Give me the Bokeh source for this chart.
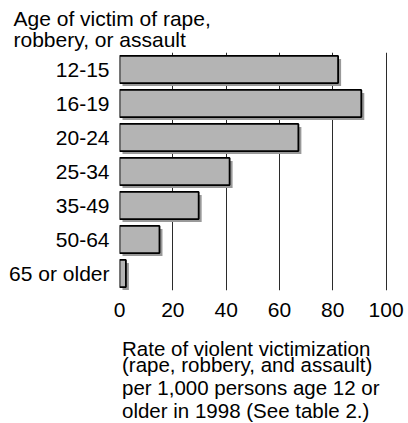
from bokeh.plotting import figure
from bokeh.layouts import column
from bokeh.models import Range1d, FactorRange, FixedTicker, Title, Label, ColumnDataSource
from bokeh.transform import dodge
from bokeh.embed import file_html
from bokeh.resources import INLINE

# ---- data ----
ages = ["12-15", "16-19", "20-24", "25-34", "35-49", "50-64", "65 or older"]
rates = [82.0, 90.7, 67.1, 41.3, 29.7, 15.0, 2.4]
x_ticks = [0, 20, 40, 60, 80, 100]
title_lines = ["Age of victim of rape,", "robbery, or assault"]
note_lines = ["Rate of violent victimization",
              "(rape, robbery, and assault)",
              "per 1,000 persons age 12 or",
              "older in 1998  (See table 2.)"]

FONT = "Liberation Sans"
FS = "21px"
W, H1, H2 = 408, 330, 93

p = figure(width=W, height=H1, output_backend="svg", toolbar_location=None,
           y_range=FactorRange(factors=ages[::-1]),
           x_range=Range1d(0, 108.4),
           min_border_left=119, min_border_right=0,
           min_border_top=52, min_border_bottom=40)
p.outline_line_color = None
p.background_fill_color = "white"
p.border_fill_color = "white"

# shadow offset (3px right, 3px down)
sdx = 1.12
sdy = 0.088
src = ColumnDataSource(dict(age=ages, rate=rates, srate=[r + sdx for r in rates]))
p.hbar(y=dodge("age", -sdy, range=p.y_range), left=sdx, right="srate", height=0.8,
       source=src, fill_color="#999999", line_color=None)
p.hbar(y="age", left=0, right="rate", height=0.8, source=src,
       fill_color="#b4b4b4", line_color="black", line_width=1.8)

# axes
p.xaxis.ticker = FixedTicker(ticks=x_ticks)
p.xgrid.ticker = FixedTicker(ticks=x_ticks)
p.xgrid.grid_line_color = "#2b2b2b"
p.xgrid.grid_line_width = 1
p.ygrid.grid_line_color = None
for ax in (p.xaxis[0], p.yaxis[0]):
    ax.axis_line_color = None
    ax.major_tick_line_color = None
    ax.minor_tick_line_color = None
    ax.major_tick_out = 0
    ax.major_tick_in = 0
    ax.major_label_text_font = FONT
    ax.major_label_text_font_size = FS
    ax.major_label_text_color = "black"
p.xaxis.major_label_standoff = 12
p.yaxis.major_label_standoff = 10

p.add_layout(Title(text="\n".join(title_lines), align="left", offset=-106,
                   text_font=FONT, text_font_size=FS, text_font_style="normal",
                   text_line_height=0.95, standoff=2, text_color="black"), "above")

# note panel below the chart; its frame is aligned with the chart frame (x from 119)
q = figure(width=W, height=H2, output_backend="svg", toolbar_location=None,
           x_range=Range1d(119, W), y_range=Range1d(H2, 0),
           x_axis_location=None, y_axis_location=None,
           min_border=0)
q.outline_line_color = None
q.background_fill_color = "white"
q.border_fill_color = "white"
q.grid.visible = False
note_base = [17.5, 33.5, 56.7, 80.0]
for t, yy in zip(note_lines, note_base):
    q.add_layout(Label(x=121.5, y=yy, text=t, text_font=FONT, text_font_size="20.5px",
                       text_align="left", text_baseline="alphabetic", text_color="black"))

open("out.html", "w").write(file_html(column(p, q, spacing=0), INLINE))
